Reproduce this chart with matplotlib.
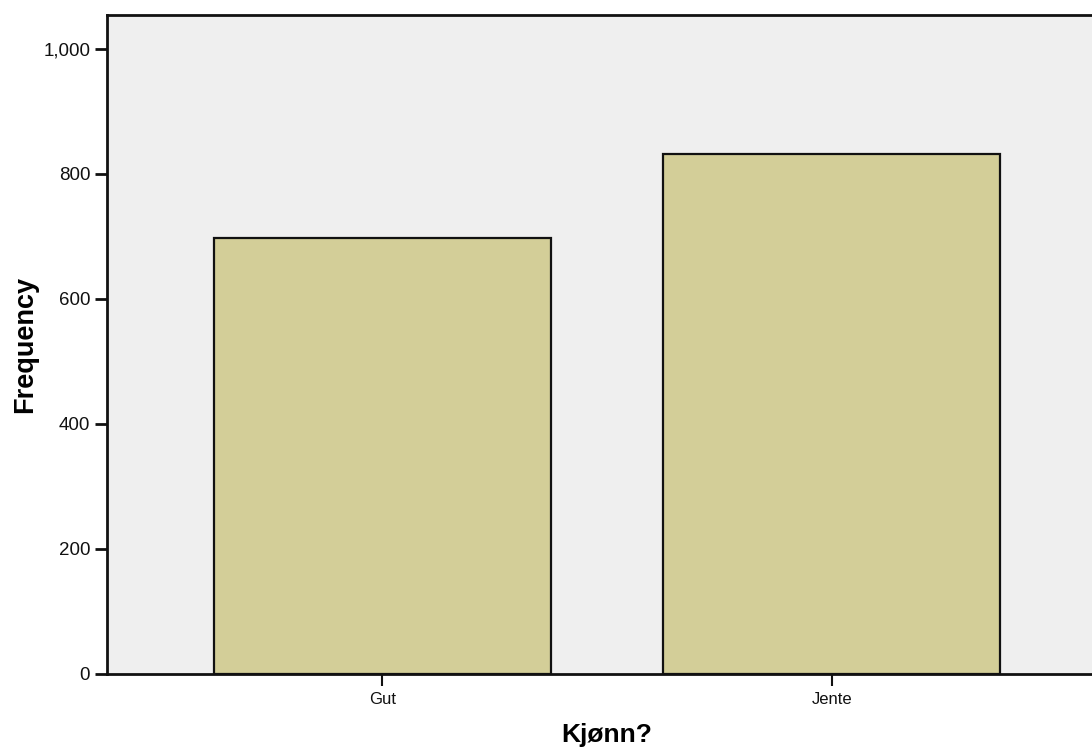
import matplotlib
matplotlib.use("Agg")
import matplotlib.pyplot as plt
from matplotlib.ticker import FuncFormatter

categories = ["Gut", "Jente"]
counts = [698, 832]

plt.rcParams["font.family"] = ["Liberation Sans", "DejaVu Sans"]

fig = plt.figure(figsize=(10.92, 7.53), dpi=100)
# axes runs past the right edge of the figure, like the clipped original
ax = fig.add_axes([107 / 1092, 1 - 674 / 753, (1107 - 107) / 1092, (674 - 15) / 753])
ax.set_facecolor("#efefef")

x = list(range(len(categories)))
ax.bar(x, counts, width=0.75, color="#d3ce98", edgecolor="#111111", linewidth=1.6)

ax.set_xlim(-0.612, 1.612)
ax.set_ylim(0, 1054)
ax.set_yticks([0, 200, 400, 600, 800, 1000])
ax.yaxis.set_major_formatter(FuncFormatter(lambda v, p: f"{int(v):,}"))
ax.set_xticks(x)
ax.set_xticklabels(categories)

for side in ["left", "bottom", "top", "right"]:
    ax.spines[side].set_linewidth(2)
    ax.spines[side].set_color("#111111")

ax.tick_params(axis="y", length=8.6, width=2, labelsize=13.5, pad=3.5, colors="#111111")
ax.tick_params(axis="x", length=8.6, width=1.5, labelsize=12, pad=4, colors="#111111")

ax.set_xlabel("Kjønn?", fontsize=19, fontweight="bold", labelpad=12)
ax.set_ylabel("Frequency", fontsize=19.5, fontweight="bold", labelpad=4)

plt.savefig("out.png", dpi=100)
